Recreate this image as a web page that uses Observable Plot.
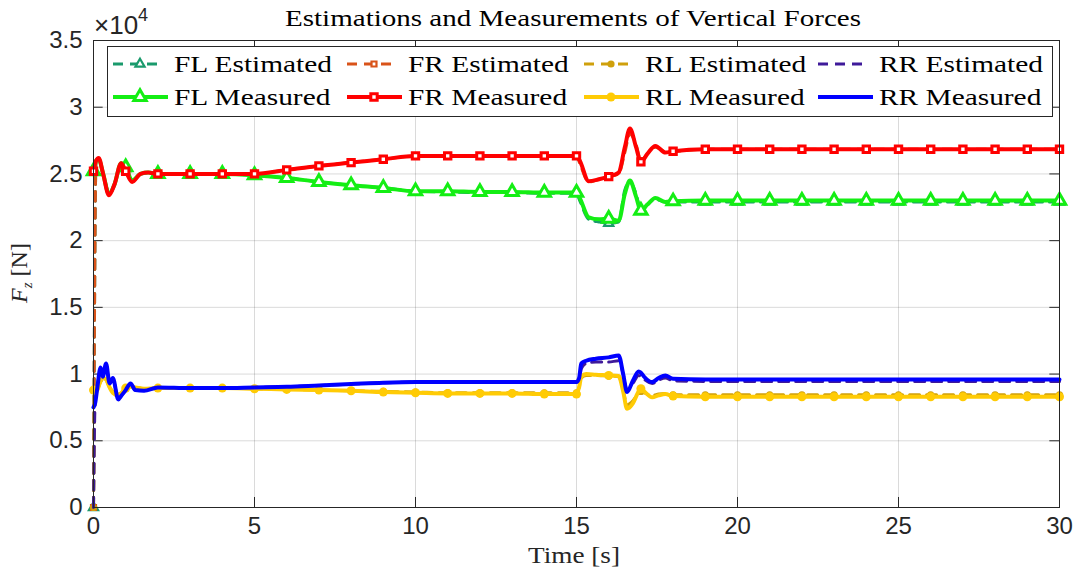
<!DOCTYPE html>
<html><head><meta charset="utf-8">
<script src="https://cdn.jsdelivr.net/npm/d3@7"></script>
<script src="https://cdn.jsdelivr.net/npm/@observablehq/plot@0.6"></script>
<style>body{margin:0;background:#fff}#chart{width:1080px;height:572px}</style>
</head><body><div id="chart"></div>
<script>
// ---- data (values in units of 10^4 N) ----
const tFront = [0,0.08,0.16,0.3,0.48,0.65,0.86,1,1.2,1.46,1.7,2,
  3,4,5,6,7,8,9,10,11,12,13,14,15,
  15.1,15.38,15.7,16,16.31,16.5,16.66,16.85,17,17.2,17.45,17.76,18,
  19,20,21,22,23,24,25,26,27,28,29,30];
const flEstimated = [0,2.6,2.6,2.5,2.36,2.42,2.57,2.54,2.45,2.5,2.51,2.5,
  2.5,2.5,2.49,2.47,2.44,2.415,2.395,2.37,2.365,2.36,2.36,2.355,2.355,
  2.3,2.16,2.14,2.13,2.14,2.38,2.44,2.35,2.23,2.27,2.31,2.29,2.29,
  2.29,2.29,2.29,2.29,2.29,2.29,2.29,2.29,2.29,2.29,2.29,2.29];
const flMeasured = [2.52,2.6,2.61,2.5,2.35,2.42,2.58,2.55,2.45,2.5,2.51,2.5,
  2.5,2.5,2.49,2.47,2.44,2.415,2.395,2.37,2.37,2.365,2.365,2.36,2.36,
  2.32,2.175,2.16,2.165,2.15,2.35,2.45,2.33,2.225,2.27,2.32,2.29,2.295,
  2.3,2.3,2.3,2.3,2.3,2.3,2.3,2.3,2.3,2.3,2.3,2.3];
const frEstimated = [0,2.6,2.61,2.5,2.35,2.42,2.57,2.52,2.45,2.5,2.51,2.5,
  2.5,2.5,2.5,2.53,2.56,2.585,2.61,2.635,2.635,2.635,2.635,2.635,2.635,
  2.58,2.44,2.46,2.48,2.5,2.66,2.8,2.72,2.6,2.65,2.7,2.67,2.67,
  2.685,2.685,2.685,2.685,2.685,2.685,2.685,2.685,2.685,2.685,2.685,2.685];
const frMeasured = [2.52,2.6,2.62,2.5,2.34,2.42,2.58,2.52,2.44,2.5,2.51,2.5,
  2.5,2.5,2.5,2.53,2.56,2.585,2.61,2.635,2.635,2.635,2.635,2.635,2.635,
  2.6,2.445,2.46,2.48,2.51,2.7,2.84,2.7,2.59,2.65,2.71,2.66,2.67,
  2.685,2.685,2.685,2.685,2.685,2.685,2.685,2.685,2.685,2.685,2.685,2.685];

const tRear = [0,0.05,0.12,0.22,0.29,0.39,0.5,0.6,0.77,0.87,1,1.15,1.3,1.57,
  2,3,4,5,6,7,8,9,10,11,12,13,14,15,
  15.08,15.15,15.3,15.6,16,16.31,16.45,16.57,16.75,16.93,17,17.1,17.35,17.55,17.76,18,
  19,20,21,22,23,24,25,26,27,28,29,30];
const rlEstimated = [0,0.86,0.88,0.94,0.96,0.95,0.9,0.87,0.85,0.86,0.89,0.9,0.9,0.89,
  0.895,0.895,0.895,0.89,0.885,0.88,0.875,0.87,0.865,0.86,0.86,0.86,0.86,0.86,
  0.9,0.97,0.99,0.99,0.985,0.98,0.88,0.77,0.8,0.86,0.87,0.86,0.84,0.85,0.855,0.845,
  0.845,0.845,0.845,0.845,0.845,0.845,0.845,0.845,0.845,0.845,0.845,0.845];
const rlMeasured = [0.88,0.86,0.88,0.95,0.97,0.96,0.9,0.86,0.84,0.86,0.895,0.905,0.9,0.89,
  0.895,0.895,0.895,0.89,0.885,0.88,0.875,0.865,0.86,0.855,0.855,0.855,0.85,0.85,
  0.9,0.98,1.0,0.995,0.99,0.985,0.87,0.74,0.78,0.87,0.89,0.87,0.826,0.84,0.85,0.835,
  0.83,0.83,0.83,0.83,0.83,0.83,0.83,0.83,0.83,0.83,0.83,0.83];
const rrEstimated = [0,0.78,0.9,1.04,0.98,1.06,0.93,0.96,0.82,0.84,0.88,0.92,0.88,0.88,
  0.9,0.895,0.895,0.9,0.905,0.915,0.925,0.935,0.94,0.94,0.94,0.94,0.94,0.94,
  0.95,1.04,1.08,1.09,1.09,1.1,1.0,0.88,0.93,0.99,0.98,0.96,0.93,0.955,0.97,0.95,
  0.945,0.945,0.945,0.945,0.945,0.945,0.945,0.945,0.945,0.945,0.945,0.945];
const rrMeasured = [0.75,0.78,0.9,1.05,0.98,1.08,0.93,0.97,0.81,0.84,0.88,0.93,0.88,0.875,
  0.9,0.895,0.895,0.9,0.905,0.915,0.925,0.935,0.94,0.94,0.94,0.94,0.94,0.94,
  0.97,1.08,1.1,1.115,1.125,1.14,1.0,0.865,0.95,1.02,1.01,0.98,0.94,0.97,0.99,0.965,
  0.96,0.96,0.96,0.96,0.96,0.96,0.96,0.96,0.96,0.96,0.96,0.96];

const xTicks = [0,5,10,15,20,25,30];
const yTicks = [0,0.5,1,1.5,2,2.5,3,3.5];
const yTickLabels = ["0","0.5","1","1.5","2","2.5","3","3.5"];
const titleText = "Estimations and Measurements of Vertical Forces";
const xLabel = "Time [s]";

// ---- series styles ----
const series = [
  {name:"FL Estimated", t:tFront, v:flEstimated, color:"#1a9a6c", dash:"10,7", w:3, sym:"triangle", r:3.4, sw:2.2, filled:false},
  {name:"FR Estimated", t:tFront, v:frEstimated, color:"#d95319", dash:"10,7", w:3, sym:"square", r:2.8, sw:2.2, filled:false},
  {name:"RL Estimated", t:tRear, v:rlEstimated, color:"#cfa00c", dash:"10,7", w:3, sym:"circle", r:3.6, sw:0, filled:true},
  {name:"RR Estimated", t:tRear, v:rrEstimated, color:"#3f1a9a", dash:"10,7", w:3, sym:null},
  {name:"FL Measured", t:tFront, v:flMeasured, color:"#14ee14", dash:null, w:4, sym:"triangle", r:4.6, sw:3, filled:false},
  {name:"FR Measured", t:tFront, v:frMeasured, color:"#ff0000", dash:null, w:4, sym:"square", r:3.6, sw:3, filled:false},
  {name:"RL Measured", t:tRear, v:rlMeasured, color:"#ffcb05", dash:null, w:4, sym:"circle", r:4.5, sw:0, filled:true},
  {name:"RR Measured", t:tRear, v:rrMeasured, color:"#0000ff", dash:null, w:4, sym:null}
];
const legendOrder = ["FL Estimated","FR Estimated","RL Estimated","RR Estimated","FL Measured","FR Measured","RL Measured","RR Measured"];

const marks = [
  Plot.ruleX(xTicks, {stroke:"#262626", strokeOpacity:0.17}),
  Plot.ruleY(yTicks, {stroke:"#262626", strokeOpacity:0.17}),
  Plot.ruleY(yTicks, {x1:0, x2:0.3, stroke:"#262626"}),
  Plot.ruleY(yTicks, {x1:29.7, x2:30, stroke:"#262626"}),
  Plot.ruleX(xTicks, {y1:0, y2:0.075, stroke:"#262626"}),
  Plot.ruleX(xTicks, {y1:3.425, y2:3.5, stroke:"#262626"})
];
for (const s of series) {
  const rows = s.t.map((t,i) => ({t, v:s.v[i]}));
  marks.push(Plot.line(rows, {x:"t", y:"v", stroke:s.color, strokeWidth:s.w,
    strokeDasharray:s.dash || undefined, curve:"monotone-x", strokeLinejoin:"round"}));
  if (s.sym) {
    const pts = rows.filter(d => Number.isInteger(d.t));
    marks.push(Plot.dot(pts, {x:"t", y:"v", symbol:s.sym, r:s.r,
      fill: s.filled ? s.color : "white", stroke: s.filled ? "none" : s.color, strokeWidth:s.sw}));
  }
}
marks.push(Plot.frame({stroke:"#262626", strokeWidth:1}));
marks.push(Plot.axisX(xTicks, {tickSize:0, tickPadding:9, label:null, fontSize:24}));
marks.push(Plot.axisY(yTicks, {tickSize:0, tickPadding:11, label:null, fontSize:24,
  tickFormat: d => yTickLabels[yTicks.indexOf(d)]}));

const chart = Plot.plot({
  width:1080, height:572,
  marginLeft:93, marginRight:21, marginTop:40, marginBottom:65,
  x:{domain:[0,30]}, y:{domain:[0,3.5]},
  style:{fontFamily:"'Liberation Sans', Arial, sans-serif", fontSize:"24px", color:"#262626", background:"white"},
  marks
});
document.getElementById("chart").appendChild(chart);

// ---- annotations: title, labels, exponent, legend ----
const svg = d3.select(chart);
const serif = "'Liberation Serif', 'Times New Roman', serif";
const title = svg.append("text").attr("x", 573).attr("y", 26).attr("text-anchor","middle")
  .attr("font-family", serif).attr("font-size", 24).attr("fill","#000").text(titleText);
title.attr("textLength", 576).attr("lengthAdjust","spacingAndGlyphs");

const xl = svg.append("text").attr("x", 574).attr("y", 563).attr("text-anchor","middle")
  .attr("font-family", serif).attr("font-size", 24).attr("fill","#262626").text(xLabel);
xl.attr("textLength", 92).attr("lengthAdjust","spacingAndGlyphs");

const yl = svg.append("text").attr("transform","translate(27,273) rotate(-90)").attr("text-anchor","middle")
  .attr("font-family", serif).attr("font-size", 24).attr("fill","#262626");
yl.append("tspan").attr("font-style","italic").text("F");
yl.append("tspan").attr("font-style","italic").attr("font-size",15).attr("dy",5).text("z");
yl.append("tspan").attr("dy",-5).text(" [N]");

const ex = svg.append("text").attr("x", 94).attr("y", 34).attr("text-anchor","start")
  .attr("font-family","'Liberation Sans', Arial, sans-serif").attr("font-size", 26).attr("fill","#262626");
ex.append("tspan").text("×10");
ex.append("tspan").attr("font-size", 18).attr("dy", -13).text("4");

// legend
const lg = svg.append("g").attr("text-anchor","start");
lg.append("rect").attr("x",107.5).attr("y",46.5).attr("width",945).attr("height",70)
  .attr("fill","white").attr("stroke","#262626").attr("stroke-width",1);
const colX = [113, 347, 584, 818];
const rowY = [64, 97];
const refLabel = lg.append("text").attr("font-family", serif).attr("font-size",24).text("FL Estimated");
const refW = refLabel.node().getComputedTextLength();
refLabel.remove();
const k = 158 / refW;
legendOrder.forEach((name, i) => {
  const s = series.find(d => d.name === name);
  const col = i % 4, row = Math.floor(i / 4);
  const x0 = colX[col], y0 = rowY[row];
  const len = s.dash ? 47 : 55;
  lg.append("line").attr("x1", x0).attr("x2", x0 + len).attr("y1", y0).attr("y2", y0)
    .attr("stroke", s.color).attr("stroke-width", s.w).attr("stroke-dasharray", s.dash || null);
  if (s.sym) {
    const symType = s.sym === "triangle" ? d3.symbolTriangle : s.sym === "square" ? d3.symbolSquare : d3.symbolCircle;
    lg.append("path").attr("d", d3.symbol(symType, Math.PI * s.r * s.r)())
      .attr("transform", `translate(${x0 + 27},${y0})`)
      .attr("fill", s.filled ? s.color : "white").attr("stroke", s.filled ? "none" : s.color)
      .attr("stroke-width", s.sw);
  }
  const tx = lg.append("text").attr("x", x0 + 61).attr("y", y0 + 8).attr("text-anchor","start")
    .attr("font-family", serif).attr("font-size", 24).attr("fill","#000").text(name);
  const w = tx.node().getComputedTextLength();
  tx.attr("textLength", w * k).attr("lengthAdjust","spacingAndGlyphs");
});
</script></body></html>
